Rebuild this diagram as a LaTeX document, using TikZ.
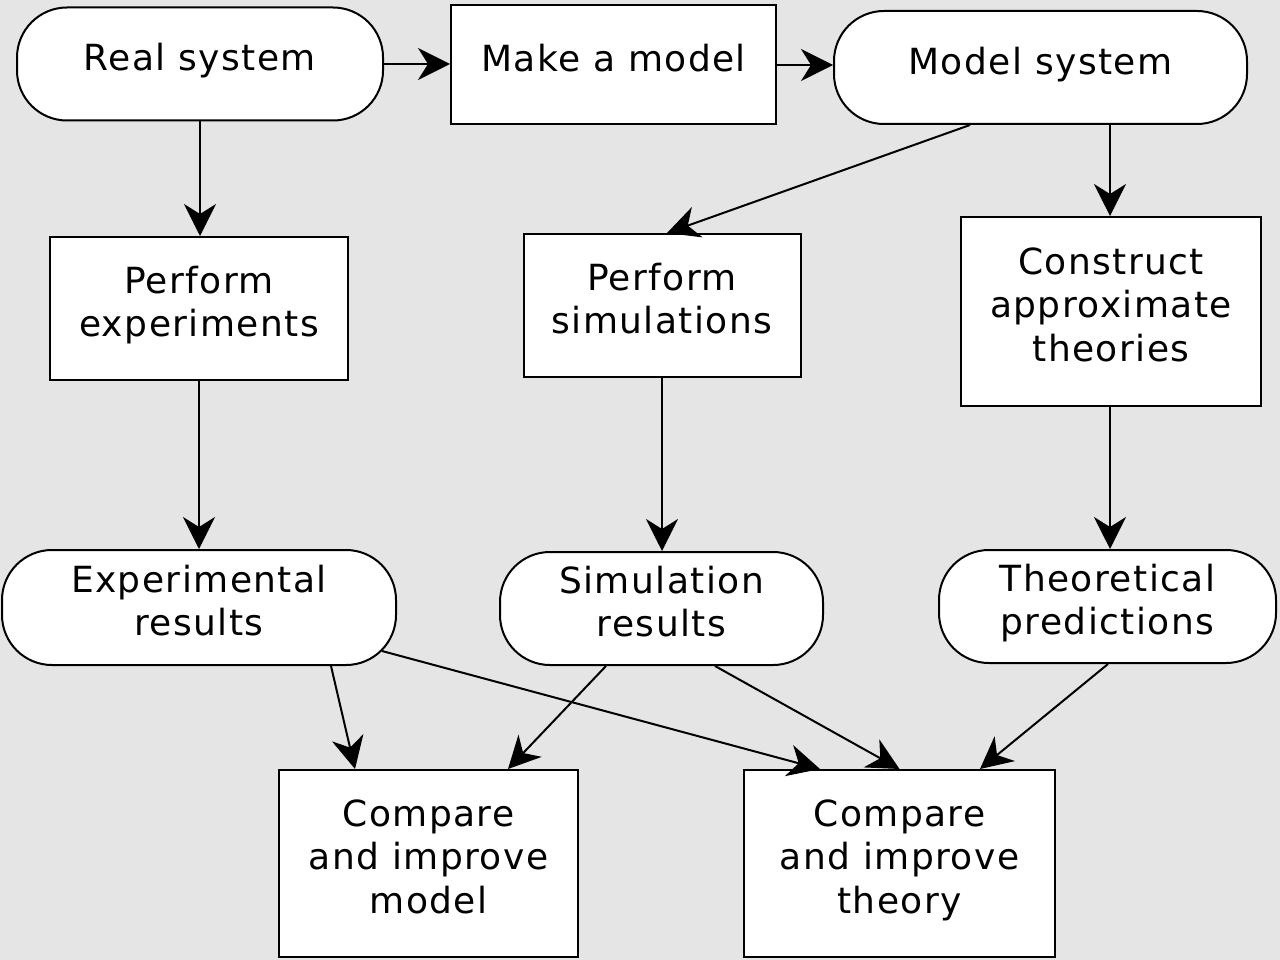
\documentclass[tikz,border=0pt]{standalone}
\usepackage{fontspec}
\setmainfont{DejaVu Sans}[LetterSpace=4]
\usetikzlibrary{arrows.meta,calc}
\begin{document}
\begin{tikzpicture}[x=1pt,y=-1pt,
  base/.style={draw=black, line width=2pt, fill=white, align=center,
    font=\fontsize{36}{43.5}\selectfont, inner sep=0pt, text depth=14pt},
  boxnode/.style={base, rectangle},
  pill/.style={base, rectangle, rounded corners=50pt},
  link/.style={line width=2pt, -{Stealth[length=32pt,width=32pt,inset=10pt]}}]
\fill[gray!20] (0,0) rectangle (1280,960);
\useasboundingbox (0,0) rectangle (1280,960);
\node[pill, minimum width=366pt, minimum height=113pt] (real) at (200,64) {Real system};
\node[boxnode, minimum width=325pt, minimum height=119pt] (make) at (613.5,65) {Make a model};
\node[pill, minimum width=413pt, minimum height=113pt] (msys) at (1040.5,67.5) {Model system};
\node[boxnode, minimum width=298pt, minimum height=143pt] (pexp) at (199,308.5) {Perform\\experiments};
\node[boxnode, minimum width=277pt, minimum height=143pt] (psim) at (662,305.5) {Perform\\simulations};
\node[boxnode, minimum width=300pt, minimum height=189pt] (cons) at (1111,311.5) {Construct\\approximate\\theories};
\node[pill, minimum width=394pt, minimum height=115pt] (eres) at (199,607.5) {Experimental\\results};
\node[pill, minimum width=323pt, minimum height=113pt] (sres) at (661.5,608.5) {Simulation\\results};
\node[pill, minimum width=337pt, minimum height=113pt] (tpred) at (1107.5,606.5) {Theoretical\\predictions};
\node[boxnode, minimum width=299pt, minimum height=187pt] (cmod) at (428.5,863.5) {Compare\\and improve\\model};
\node[boxnode, minimum width=311pt, minimum height=187pt] (cthe) at (899.5,863.5) {Compare\\and improve\\theory};
\draw[link] (real.east) -- (real.east -| make.west);
\draw[link] (make.east) -- (make.east -| msys.west);
\draw[link] (real.south) -- (real.south |- pexp.north);
\draw[link] ([xshift=-70.5pt]msys.south) -- ([xshift=5pt]psim.north);
\draw[link] ([xshift=69.5pt]msys.south) -- ([xshift=69.5pt]msys.south |- cons.north);
\draw[link] (pexp.south) -- (eres.north);
\draw[link] (psim.south) -- (psim.south |- sres.north);
\draw[link] ([xshift=-1pt]cons.south) -- ([xshift=-1pt]cons.south |- tpred.north);
\draw[link] ([xshift=132pt]eres.south) -- ([xshift=-73.5pt]cmod.north);
\draw[link] ([xshift=-15pt,yshift=15pt]eres.south east) -- ([xshift=-79.5pt]cthe.north);
\draw[link] ([xshift=-55.5pt]sres.south) -- ([xshift=79.5pt]cmod.north);
\draw[link] ([xshift=53.5pt]sres.south) -- (cthe.north);
\draw[link] ([xshift=0.5pt]tpred.south) -- ([xshift=80.5pt]cthe.north);
\end{tikzpicture}
\end{document}
